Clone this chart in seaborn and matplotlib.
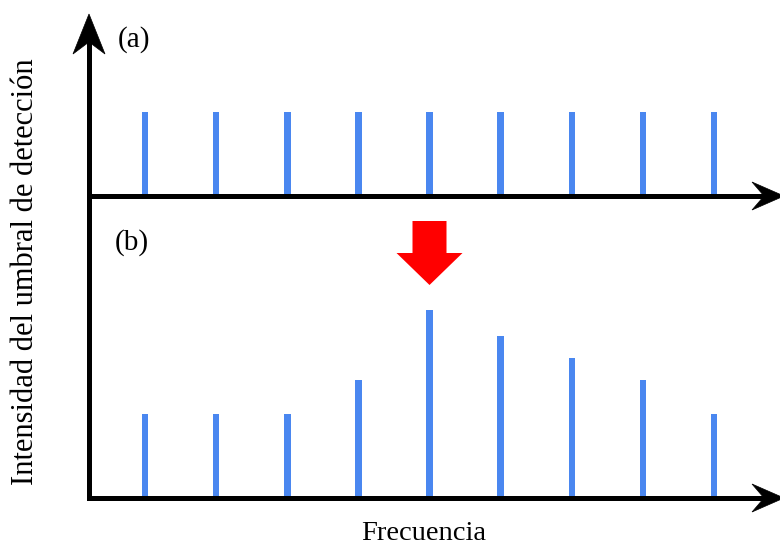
import numpy as np
import pandas as pd
import matplotlib
matplotlib.use("Agg")
import matplotlib.pyplot as plt
from matplotlib.patches import Polygon
from matplotlib.lines import Line2D
import seaborn as sns

# ---- data ----
frequencies = [1, 2, 3, 4, 5, 6, 7, 8, 9]
threshold_a = [3.0, 3.0, 3.0, 3.0, 3.0, 3.0, 3.0, 3.0, 3.0]
threshold_b = [3.0, 3.0, 3.0, 4.2, 6.7, 5.8, 5.0, 4.2, 3.0]
panel_labels = ["(a)", "(b)"]
xlabel = "Frecuencia"
ylabel = "Intensidad del umbral de detección"

sns.set_theme(style="white")
plt.rcParams["font.family"] = ["Liberation Serif", "DejaVu Serif"]
plt.rcParams["text.color"] = "black"

W, H = 780, 547
fig = plt.figure(figsize=(W / 100, H / 100), dpi=100)
fig.patch.set_facecolor("white")

def fx(x):
    return x / W

def fy(y):
    return 1 - y / H

BLUE = "#4a87f0"
PX_PER_UNIT = 28.0
XLIM = (1 - 145 / 71.125, 1 + 635 / 71.125)

# panel (a): baseline at pixel 196
ax_a = fig.add_axes([0, fy(196), 1, 196 / H])
# panel (b): baseline at pixel 498
ax_b = fig.add_axes([0, fy(498), 1, (498 - 200) / H])

bar_w = 6.5 / 71.125
df_a = pd.DataFrame({"f": frequencies, "v": threshold_a})
df_b = pd.DataFrame({"f": frequencies, "v": threshold_b})
for ax, df in ((ax_a, df_a), (ax_b, df_b)):
    sns.barplot(data=df, x="f", y="v", native_scale=True, width=bar_w,
                color=BLUE, saturation=1, ax=ax, linewidth=0)
    ax.set_xlim(*XLIM)
    ax.axis("off")
    ax.patch.set_alpha(0)

ax_b.set_ylim(0, (498 - 200) / PX_PER_UNIT)
ax_a.set_ylim(0, 196 / PX_PER_UNIT)

# red arrow above the peak
peak = frequencies[int(np.argmax(threshold_b))]
bw, hw = 17 / 71.125, 33 / 71.125
y_top, y_neck, y_tip = (498 - 221) / PX_PER_UNIT, (498 - 253) / PX_PER_UNIT, (498 - 285) / PX_PER_UNIT
arrow = Polygon([(peak - bw, y_top), (peak + bw, y_top), (peak + bw, y_neck),
                 (peak + hw, y_neck), (peak, y_tip), (peak - hw, y_neck),
                 (peak - bw, y_neck)], closed=True, facecolor="#ff0000",
                edgecolor="none", transform=ax_b.transData, clip_on=False)
ax_b.add_patch(arrow)

# axis arrows (figure-level decoration)
LW = 3.6
def fig_line(xs, ys):
    fig.add_artist(Line2D([fx(x) for x in xs], [fy(y) for y in ys], color="black",
                          lw=LW, solid_capstyle="projecting", transform=fig.transFigure))

def fig_head(pts):
    fig.add_artist(Polygon([(fx(x), fy(y)) for x, y in pts], closed=True,
                           facecolor="black", edgecolor="black", lw=0.5,
                           transform=fig.transFigure))

fig_line([89, 89], [498, 40])
fig_head([(89, 14), (105, 54), (89, 42), (73, 54)])
fig_line([89, 768], [196, 196])
fig_head([(784, 196), (752, 182), (764, 196), (752, 210)])
fig_line([89, 768], [498, 498])
fig_head([(784, 498), (752, 484), (764, 498), (752, 512)])

# texts
fig.text(fx(134), fy(40), panel_labels[0], fontsize=21, ha="center", va="center", color="black")
fig.text(fx(132), fy(243), panel_labels[1], fontsize=21, ha="center", va="center", color="black")
fig.text(fx(424), fy(534), xlabel, fontsize=20.5, ha="center", va="center", color="black")
fig.text(fx(26), fy(272), ylabel, fontsize=22, ha="center", va="center", rotation=90, color="black")

fig.savefig("out.png", dpi=100, facecolor="white")
